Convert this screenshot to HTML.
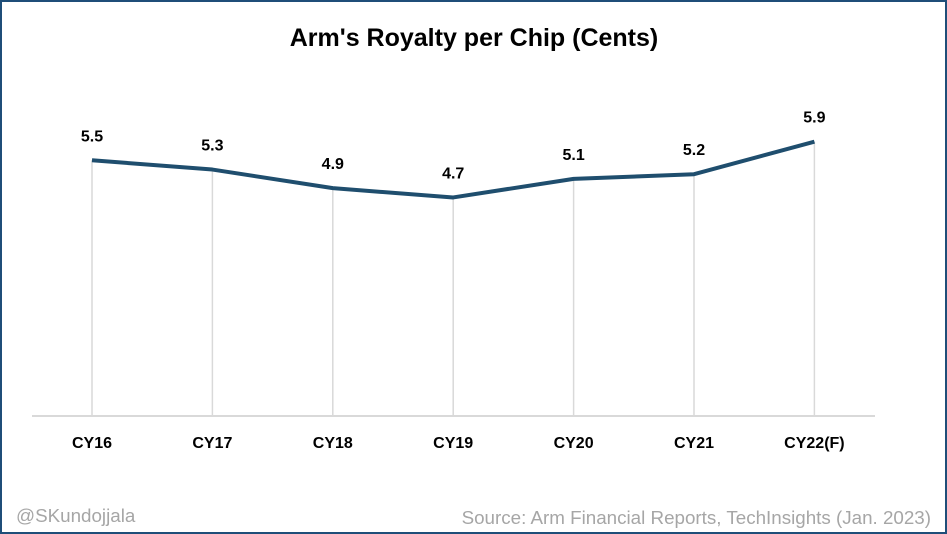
<!DOCTYPE html>
<html><head><meta charset="utf-8"><style>
html,body{margin:0;padding:0;background:#fff}
#wrap{position:relative;width:947px;height:534px;box-sizing:border-box;border:2px solid #1f4e79;background:#fff;font-family:"Liberation Sans",sans-serif;overflow:hidden}
svg{position:absolute;left:-2px;top:-2px}
</style></head><body>
<div id="wrap">
<svg id="chart" width="947" height="534">
<text x="474" y="46" text-anchor="middle" font-size="25" font-weight="bold" fill="#000">Arm's Royalty  per Chip (Cents)</text>
<line x1="32" y1="416" x2="875" y2="416" stroke="#d9d9d9" stroke-width="2"/>
<g id="grid"></g>
<g id="labels"></g>
<text x="16" y="522" font-size="18.8" fill="#a6a6a6">@SKundojjala</text>
<text x="931" y="524" text-anchor="end" font-size="18.8" fill="#a6a6a6">Source: Arm Financial Reports, TechInsights (Jan. 2023)</text>
</svg>
</div>
<script>
const categories = ["CY16","CY17","CY18","CY19","CY20","CY21","CY22(F)"];
const values = [5.5,5.3,4.9,4.7,5.1,5.2,5.9];
const valueLabels = ["5.5","5.3","4.9","4.7","5.1","5.2","5.9"];

const NS="http://www.w3.org/2000/svg";
const svg=document.getElementById('chart');
const grid=document.getElementById('grid');
const labels=document.getElementById('labels');
function xScale(i){return 92+i*120.4;}
function yScale(v){return 416-v*46.5;}
let pts=[];
categories.forEach((c,i)=>{
  const x=xScale(i), y=yScale(values[i]);
  pts.push(x+","+y);
  const l=document.createElementNS(NS,'line');
  l.setAttribute('x1',x);l.setAttribute('x2',x);l.setAttribute('y1',y);l.setAttribute('y2',416);
  l.setAttribute('stroke','#d9d9d9');l.setAttribute('stroke-width','1.5');
  
  
  grid.appendChild(l);
  const t=document.createElementNS(NS,'text');
  t.setAttribute('x',x);t.setAttribute('y',448);t.setAttribute('text-anchor','middle');
  t.setAttribute('font-size','16');t.setAttribute('font-weight','bold');
  t.textContent=c;
  
  
  labels.appendChild(t);
  const v=document.createElementNS(NS,'text');
  v.setAttribute('x',x);v.setAttribute('y',y-19);v.setAttribute('text-anchor','middle');
  v.setAttribute('font-size','16');v.setAttribute('font-weight','bold');
  v.textContent=valueLabels[i];
  
  
  labels.appendChild(v);
});
const pl=document.createElementNS(NS,'polyline');
pl.setAttribute('points',pts.join(' '));
pl.setAttribute('fill','none');pl.setAttribute('stroke','#1f4e6e');pl.setAttribute('stroke-width','4');
pl.setAttribute('stroke-linejoin','round');


svg.appendChild(pl);
</script>
</body></html>
